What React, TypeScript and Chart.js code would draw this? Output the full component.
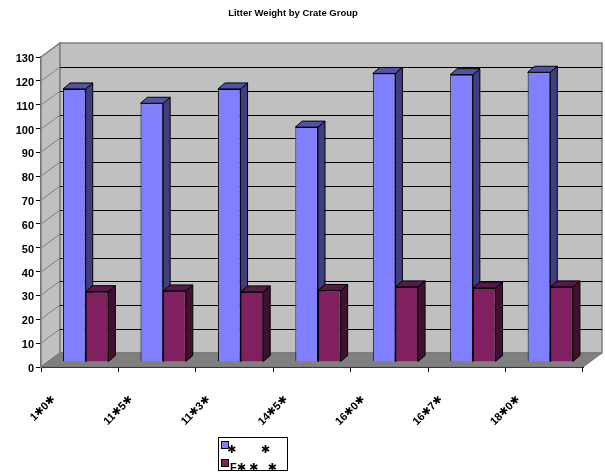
import React, { useEffect, useRef } from "react";
import { Chart, registerables } from "chart.js";

Chart.register(...registerables);

const categories = ["1✱0✱", "11✱5✱", "11✱3✱", "14✱5✱", "16✱0✱", "16✱7✱", "18✱0✱"];
const blueValues = [114.5, 108.5, 114.5, 98.5, 121, 120.5, 121.5];
const redValues = [29.5, 29.8, 29.4, 30, 31.5, 31, 31.5];
const seriesNames = ["✱        ✱", "F✱ ✱   ✱"];
const titleText = "Litter Weight by Crate Group";

const FONT = '"Liberation Sans", Arial, "DejaVu Sans", sans-serif';
const DEPTH_X = 19;
const DEPTH_Y = 14;
const BAR_DX = 6;
const BAR_DY = 5;
const BAR_DEPTH_X = 7;
const BAR_DEPTH_Y = 6;

function poly(ctx: CanvasRenderingContext2D, pts: number[][], fill: string | null, stroke: string | null, lw = 1) {
  ctx.beginPath();
  pts.forEach((p, i) => (i ? ctx.lineTo(p[0], p[1]) : ctx.moveTo(p[0], p[1])));
  ctx.closePath();
  if (fill) {
    ctx.fillStyle = fill;
    ctx.fill();
  }
  if (stroke) {
    ctx.strokeStyle = stroke;
    ctx.lineWidth = lw;
    ctx.stroke();
  }
}

const sideColors = ["#3F3F80", "#401030"];
const topColors = ["#5252A8", "#5A1848"];
const frontColors = ["#8080FF", "#802060"];

const scene3d = {
  id: "scene3d",
  beforeDatasetsDraw(chart: any) {
    const ctx: CanvasRenderingContext2D = chart.ctx;
    const { left, right, top, bottom } = chart.chartArea;
    const yScale = chart.scales.y;
    ctx.save();
    // walls
    poly(ctx, [[left, top], [left + DEPTH_X, top - DEPTH_Y], [left + DEPTH_X, bottom - DEPTH_Y], [left, bottom]], "#C0C0C0", "#808080", 1.5);
    poly(ctx, [[left + DEPTH_X, top - DEPTH_Y], [right + DEPTH_X, top - DEPTH_Y], [right + DEPTH_X, bottom - DEPTH_Y], [left + DEPTH_X, bottom - DEPTH_Y]], "#C0C0C0", "#808080", 1.5);
    // gridlines
    yScale.ticks.forEach((t: any) => {
      const y = Math.round(yScale.getPixelForValue(t.value));
      if (t.value === 0) return;
      ctx.lineWidth = 1;
      ctx.strokeStyle = "#808080";
      ctx.beginPath();
      ctx.moveTo(left, y);
      ctx.lineTo(left + DEPTH_X, y - DEPTH_Y);
      ctx.stroke();
      if (t.value < yScale.max) {
        ctx.strokeStyle = "#000000";
        ctx.beginPath();
        ctx.moveTo(left + DEPTH_X, y - DEPTH_Y + 0.5);
        ctx.lineTo(right + DEPTH_X, y - DEPTH_Y + 0.5);
        ctx.stroke();
      }
    });
    // floor
    poly(ctx, [[left, bottom], [right, bottom], [right + DEPTH_X, bottom - DEPTH_Y], [left + DEPTH_X, bottom - DEPTH_Y]], "#808080", "#707070", 1);
    // bar extrusions
    ctx.translate(BAR_DX, -BAR_DY);
    chart.data.datasets.forEach((_: any, di: number) => {
      chart.getDatasetMeta(di).data.forEach((bar: any) => {
        const x0 = bar.x - bar.width / 2;
        const x1 = bar.x + bar.width / 2;
        poly(ctx, [[x1, bar.y], [x1 + BAR_DEPTH_X, bar.y - BAR_DEPTH_Y], [x1 + BAR_DEPTH_X, bar.base - BAR_DEPTH_Y], [x1, bar.base]], sideColors[di], "#000000", 1);
        poly(ctx, [[x0, bar.y], [x1, bar.y], [x1 + BAR_DEPTH_X, bar.y - BAR_DEPTH_Y], [x0 + BAR_DEPTH_X, bar.y - BAR_DEPTH_Y]], topColors[di], "#000000", 1);
      });
    });
    ctx.restore();
    ctx.save();
    ctx.translate(BAR_DX, -BAR_DY);
  },
  afterDatasetsDraw(chart: any) {
    chart.ctx.restore();
  },
  afterDraw(chart: any) {
    const ctx: CanvasRenderingContext2D = chart.ctx;
    ctx.save();
    // title
    ctx.fillStyle = "#000";
    ctx.font = `bold 9.5px ${FONT}`;
    ctx.textAlign = "center";
    ctx.textBaseline = "middle";
    ctx.fillText(titleText, 293, 13);
    // legend
    ctx.fillStyle = "#fff";
    ctx.fillRect(218.5, 437.5, 69, 33);
    ctx.strokeStyle = "#000";
    ctx.lineWidth = 1;
    ctx.strokeRect(218.5, 437.5, 69, 33);
    ctx.textAlign = "left";
    ctx.font = `bold 11px ${FONT}`;
    chart.data.datasets.forEach((ds: any, i: number) => {
      const y = 441.5 + i * 18;
      ctx.fillStyle = "#000";
      ctx.fillText(ds.label, i === 0 ? 227 : 230, y + 8.5);
      ctx.fillStyle = frontColors[i];
      ctx.fillRect(221.5, y, 7, 7);
      ctx.strokeRect(221.5, y, 7, 7);
    });
    ctx.restore();
  },
};

export default function App() {
  const ref = useRef<HTMLCanvasElement>(null);
  useEffect(() => {
    const chart = new Chart(ref.current!, {
      type: "bar",
      data: {
        labels: categories,
        datasets: [
          { label: seriesNames[0], data: blueValues, backgroundColor: frontColors[0], borderColor: "#000", borderWidth: 1 },
          { label: seriesNames[1], data: redValues, backgroundColor: frontColors[1], borderColor: "#000", borderWidth: 1 },
        ],
      },
      options: {
        responsive: false,
        animation: false,
        events: [],
        layout: { padding: { left: 3, right: 22, top: 57, bottom: 0 } },
        plugins: { legend: { display: false }, tooltip: { enabled: false }, title: { display: false } },
        datasets: { bar: { categoryPercentage: 0.585, barPercentage: 1 } },
        scales: {
          x: {
            grid: { offset: true, drawOnChartArea: false, color: "#000", tickLength: 5 },
            border: { color: "#000", width: 1 },
            afterFit: (s: any) => { s.height = 105; },
            ticks: {
              color: "#000",
              font: { family: FONT, size: 11, weight: "bold" },
              minRotation: 45,
              maxRotation: 45,
              labelOffset: -26,
              padding: 21,
              autoSkip: false,
            },
          },
          y: {
            min: 0,
            max: 130,
            grid: { drawOnChartArea: false, color: "#000", tickLength: 5 },
            border: { color: "#555", width: 2 },
            afterFit: (s: any) => { s.width = 38; },
            ticks: {
              stepSize: 10,
              color: "#000",
              padding: 2,
              labelOffset: 2,
              font: { family: FONT, size: 11, weight: "bold" },
            },
          },
        },
      } as any,
      plugins: [scene3d as any],
    });
    return () => chart.destroy();
  }, []);
  return <canvas ref={ref} width={605} height={472} style={{ position: "absolute", left: 0, top: 0, display: "block" }} />;
}
